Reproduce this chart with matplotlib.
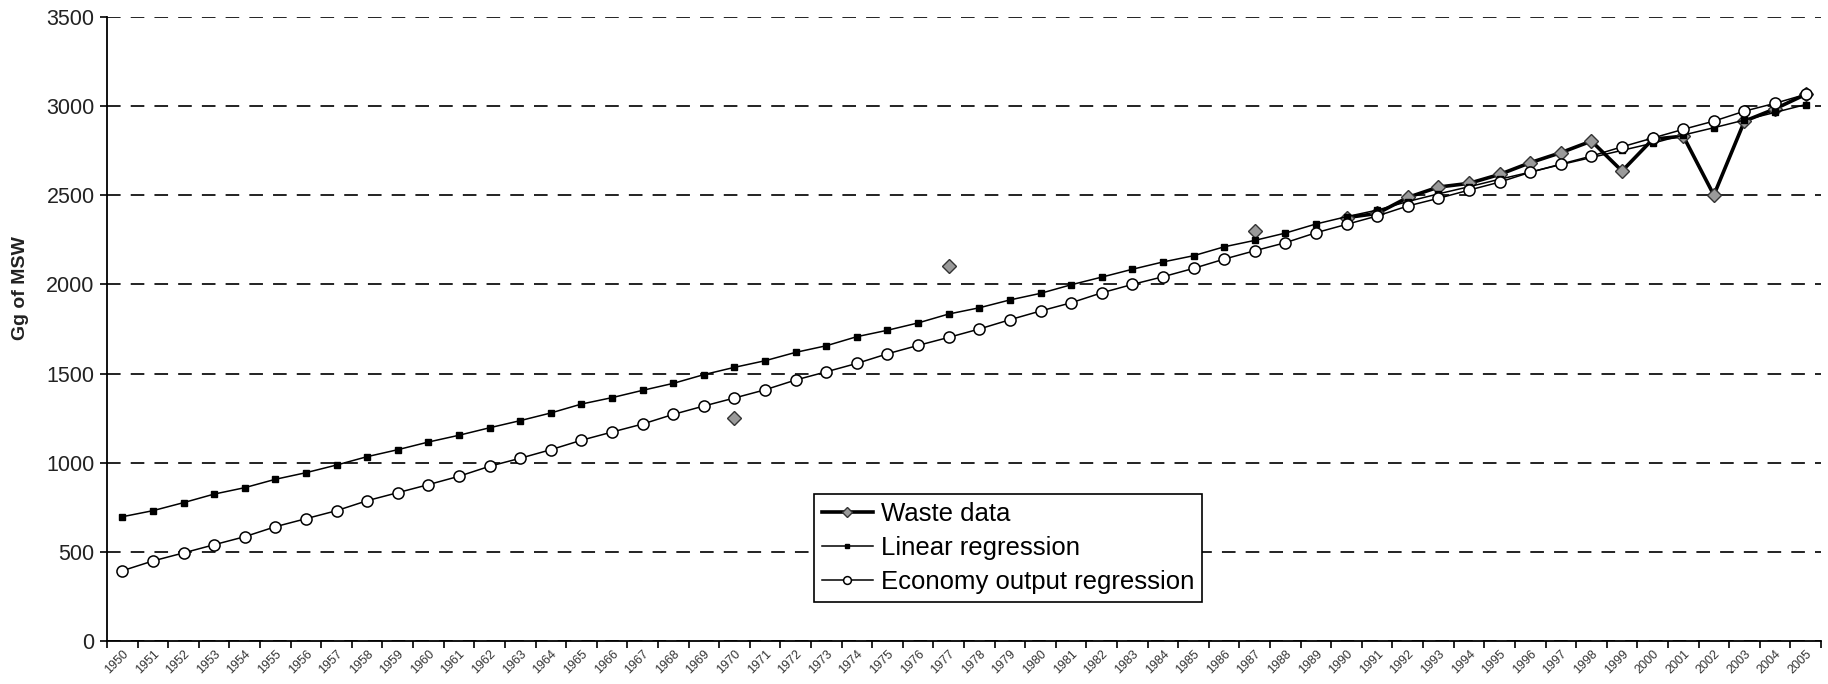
import numpy as np
import matplotlib.pyplot as plt

plt.rcParams['font.family'] = ['Liberation Sans', 'DejaVu Sans']

years = list(range(1950, 2006))

linear = [697, 731, 776, 824, 860, 907, 944, 987, 1034, 1073,
          1116, 1154, 1196, 1236, 1279, 1329, 1365, 1406, 1445, 1494,
          1535, 1572, 1619, 1656, 1707, 1743, 1784, 1834, 1869, 1913,
          1950, 1998, 2041, 2085, 2126, 2161, 2211, 2247, 2288, 2339,
          2380, 2417, 2465, 2508, 2548, 2590, 2630, 2672, 2712, 2752,
          2792, 2838, 2879, 2922, 2965, 3009]

economy = [394, 449, 494, 540, 585, 641, 686, 731, 787, 832,
           877, 924, 980, 1025, 1073, 1126, 1172, 1217, 1271, 1318,
           1363, 1409, 1464, 1510, 1557, 1611, 1658, 1703, 1750, 1802,
           1851, 1897, 1953, 2000, 2043, 2090, 2142, 2189, 2234, 2290,
           2337, 2384, 2440, 2483, 2529, 2574, 2629, 2675, 2720, 2772,
           2821, 2870, 2916, 2972, 3016, 3066]

# waste data: only some years observed
waste_obs = {1970: 1251, 1977: 2103, 1987: 2298,
             1990: 2375, 1991: 2398, 1992: 2488, 1993: 2546, 1994: 2567,
             1995: 2617, 1996: 2683, 1997: 2739, 1998: 2804, 1999: 2636,
             2000: 2814, 2001: 2832, 2002: 2501, 2003: 2916, 2004: 2985,
             2005: 3066}
waste = [waste_obs.get(y, np.nan) for y in years]

x = np.arange(len(years))

fig = plt.figure(figsize=(18.28, 6.84), dpi=100)
ax = fig.add_axes([107 / 1828, 1 - 641 / 684, (1821 - 107) / 1828, (641 - 17) / 684])

ax.plot(x, waste, color='black', lw=2.6, marker='D', ms=7,
        mfc='#9a9a9a', mec='#333333', mew=1.0, label='Waste data', zorder=3)
ax.plot(x, linear, color='black', lw=1.1, marker='s', ms=5,
        mfc='black', mec='black', label='Linear regression', zorder=4)
ax.plot(x, economy, color='black', lw=1.1, marker='o', ms=8,
        mfc='white', mec='black', mew=1.1, label='Economy output regression', zorder=5)

ax.set_ylim(0, 3500)
ax.set_yticks(range(0, 3501, 500))
ax.set_xlim(-0.5, len(years) - 0.5)

# ticks on category boundaries, labels at centres
ax.set_xticks(np.arange(-0.5, len(years), 1.0))
ax.set_xticklabels([])
ax.set_xticks(x, minor=True)
ax.set_xticklabels([str(y) for y in years], minor=True, rotation=45,
                   ha='right', va='top', rotation_mode='anchor',
                   fontsize=9, color='#333333')
ax.tick_params(axis='x', which='minor', length=0, pad=5)
ax.tick_params(axis='x', which='major', length=5, width=1.2, direction='out')
ax.tick_params(axis='y', length=5, width=1.2, direction='out',
               labelsize=15.5, pad=4, labelcolor='#222222')

ax.yaxis.grid(True, linestyle=(0, (7, 5.2)), color='#222222', lw=1.4)
ax.set_axisbelow(True)
for s in ['top', 'right']:
    ax.spines[s].set_visible(False)
for s in ['left', 'bottom']:
    ax.spines[s].set_linewidth(1.3)
    ax.spines[s].set_color('black')

fig.text(21 / 1828, 1 - 288 / 684, 'Gg of MSW', rotation=90, ha='center',
         va='center', fontsize=14, fontweight='bold', color='#222222')

leg = ax.legend(loc='upper left', bbox_to_anchor=(814 / 1828, 1 - 494 / 684),
                bbox_transform=fig.transFigure, fontsize=18.5, frameon=True,
                fancybox=False, edgecolor='black', framealpha=1,
                handlelength=2.0, handletextpad=0.3, labelspacing=0.4,
                borderpad=0.3, borderaxespad=0, markerscale=0.7)
leg.get_frame().set_linewidth(1.2)

fig.savefig('out.png', dpi=100)
